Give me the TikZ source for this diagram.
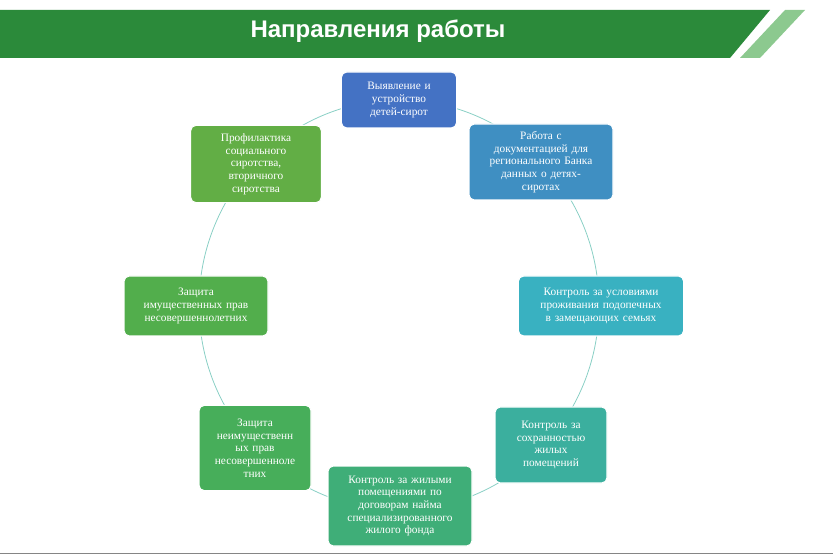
\documentclass[tikz,border=0pt]{standalone}
\usepackage{fontspec}
\setmainfont{Liberation Serif}
\newfontfamily\titlefont{Liberation Sans}
\usetikzlibrary{positioning}
\definecolor{hdrgreen}{HTML}{2B8A3A}
\definecolor{hdrlight}{HTML}{8CC98F}
\definecolor{cA}{HTML}{4472C4}
\definecolor{cB}{HTML}{3F8FC2}
\definecolor{cC}{HTML}{39B1C1}
\definecolor{cD}{HTML}{3BAF9E}
\definecolor{cE}{HTML}{3FAE78}
\definecolor{cF}{HTML}{47AE5A}
\definecolor{cG}{HTML}{52AE4C}
\definecolor{cH}{HTML}{62AE45}
\tikzset{
  item/.style={draw=white, line width=0.8pt, rounded corners=4pt, text=white,
    align=center, font=\fontsize{8.5}{9.5}\selectfont, inner sep=2pt}
}
\begin{document}
\begin{tikzpicture}[x=0.75pt,y=-0.75pt]
\useasboundingbox (0,0) rectangle (833,556);
% header band
\fill[hdrgreen] (0,10) -- (770,10) -- (730,58) -- (0,58) -- cycle;
\fill[hdrlight] (785,10) -- (805,10) -- (760,58) -- (740,58) -- cycle;
\node[text=white, font=\titlefont\bfseries\fontsize{18}{20}\selectfont] (title) at (378,31) {Направления работы};
\draw[white!60!black!20!gray] (0,553) -- (833,553);
% ring
\draw[draw=cD!60, line width=0.6pt] (399,305) ellipse (200 and 205);
% boxes
\node[item, fill=cA, minimum width=108\pgflinewidth, text width=78pt, minimum height=42pt] (n1) at (399,100) {Выявление и\\ устройство\\ детей-сирот};
\node[item, fill=cB, text width=104pt, minimum height=57pt] (n2) at (541,162) {Работа с\\ документацией для\\ регионального Банка\\ данных о детях-\\ сиротах};
\node[item, fill=cC, text width=120pt, minimum height=45pt] (n3) at (601,306) {Контроль за условиями\\ проживания подопечных\\ в замещающих семьях};
\node[item, fill=cD, text width=80pt, minimum height=57pt] (n4) at (551,445) {Контроль за\\ сохранностью\\ жилых\\ помещений};
\node[item, fill=cE, text width=104pt, minimum height=60pt] (n5) at (400,506) {Контроль за жилыми\\ помещениями по\\ договорам найма\\ специализированного\\ жилого фонда};
\node[item, fill=cF, text width=80pt, minimum height=64pt] (n6) at (255,448) {Защита\\ неимущественн\\ ых прав\\ несовершеннолe\\ тних};
\node[item, fill=cG, text width=104pt, minimum height=45pt] (n7) at (196,306) {Защита\\ имущественных прав\\ несовершеннолетних};
\node[item, fill=cH, text width=94pt, minimum height=58pt] (n8) at (256,164) {Профилактика\\ социального\\ сиротства,\\ вторичного\\ сиротства};
\end{tikzpicture}
\end{document}
